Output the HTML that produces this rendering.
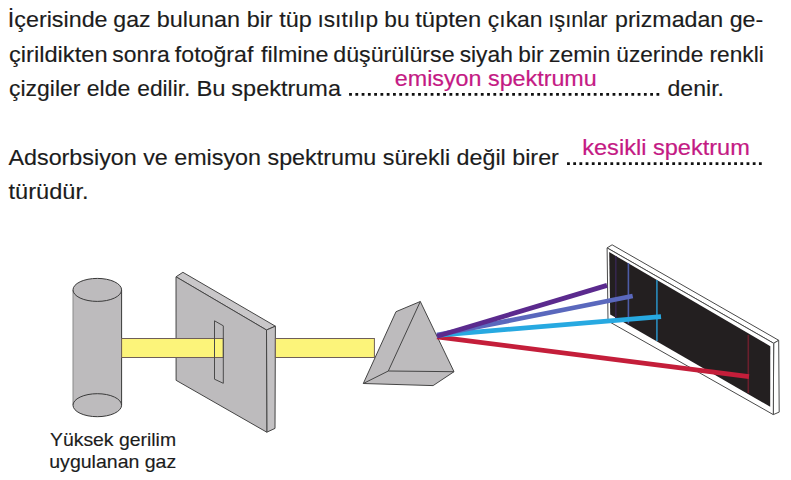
<!DOCTYPE html>
<html><head><meta charset="utf-8">
<style>
html,body{margin:0;padding:0;background:#fff;}
body{width:791px;height:480px;overflow:hidden;position:relative;}
svg{position:absolute;left:0;top:0;}
.t{font-family:"Liberation Sans",sans-serif;fill:#1c1c1c;stroke:#1c1c1c;stroke-width:0.15px;}
.p{font-family:"Liberation Sans",sans-serif;fill:#c41a84;stroke:#c41a84;stroke-width:0.2px;}
</style></head>
<body>
<svg width="791" height="480" viewBox="0 0 791 480">
<!-- TEXT START -->
<text class="t" x="7.86" y="26.8" font-size="21.8" textLength="99.71" lengthAdjust="spacingAndGlyphs">İçerisinde</text>
<text class="t" x="113.35" y="26.8" font-size="21.8" textLength="37.27" lengthAdjust="spacingAndGlyphs">gaz</text>
<text class="t" x="156.80" y="26.8" font-size="21.8" textLength="154.91" lengthAdjust="spacingAndGlyphs">bulunan bir tüp</text>
<text class="t" x="317.41" y="26.8" font-size="21.8" textLength="92.21" lengthAdjust="spacingAndGlyphs">ısıtılıp bu</text>
<text class="t" x="415.17" y="26.8" font-size="21.8" textLength="66.17" lengthAdjust="spacingAndGlyphs">tüpten</text>
<text class="t" x="487.85" y="26.8" font-size="21.8" textLength="54.72" lengthAdjust="spacingAndGlyphs">çıkan</text>
<text class="t" x="548.20" y="26.8" font-size="21.8" textLength="59.37" lengthAdjust="spacingAndGlyphs">ışınlar</text>
<text class="t" x="615.01" y="26.8" font-size="21.8" textLength="148.20" lengthAdjust="spacingAndGlyphs">prizmadan ge-</text>
<text class="t" x="9.02" y="61.5" font-size="21.8" textLength="98.55" lengthAdjust="spacingAndGlyphs">çirildikten</text>
<text class="t" x="112.37" y="61.5" font-size="21.8" textLength="57.26" lengthAdjust="spacingAndGlyphs">sonra</text>
<text class="t" x="174.88" y="61.5" font-size="21.8" textLength="78.44" lengthAdjust="spacingAndGlyphs">fotoğraf</text>
<text class="t" x="261.08" y="61.5" font-size="21.8" textLength="67.39" lengthAdjust="spacingAndGlyphs">filmine</text>
<text class="t" x="333.24" y="61.5" font-size="21.8" textLength="121.33" lengthAdjust="spacingAndGlyphs">düşürülürse</text>
<text class="t" x="459.67" y="61.5" font-size="21.8" textLength="53.18" lengthAdjust="spacingAndGlyphs">siyah</text>
<text class="t" x="518.34" y="61.5" font-size="21.8" textLength="25.20" lengthAdjust="spacingAndGlyphs">bir</text>
<text class="t" x="548.95" y="61.5" font-size="21.8" textLength="61.38" lengthAdjust="spacingAndGlyphs">zemin</text>
<text class="t" x="616.34" y="61.5" font-size="21.8" textLength="147.39" lengthAdjust="spacingAndGlyphs">üzerinde renkli</text>
<text class="t" x="9.05" y="95.5" font-size="21.8" textLength="121.11" lengthAdjust="spacingAndGlyphs">çizgiler elde</text>
<text class="t" x="137.26" y="95.5" font-size="21.8" textLength="53.12" lengthAdjust="spacingAndGlyphs">edilir.</text>
<text class="t" x="196.43" y="95.5" font-size="21.8" textLength="29.17" lengthAdjust="spacingAndGlyphs">Bu</text>
<text class="t" x="231.35" y="95.5" font-size="21.8" textLength="109.62" lengthAdjust="spacingAndGlyphs">spektruma</text>
<text class="t" x="667.55" y="95.5" font-size="21.8" textLength="56.40" lengthAdjust="spacingAndGlyphs">denir.</text>
<text class="p" x="394.81" y="85.5" font-size="21.2" textLength="201.93" lengthAdjust="spacingAndGlyphs">emisyon spektrumu</text>
<text class="t" x="8.49" y="164.6" font-size="21.8" textLength="550.37" lengthAdjust="spacingAndGlyphs">Adsorbsiyon ve emisyon spektrumu sürekli değil birer</text>
<text class="p" x="582.24" y="154.5" font-size="21.2" textLength="167.60" lengthAdjust="spacingAndGlyphs">kesikli spektrum</text>
<text class="t" x="8.53" y="199.3" font-size="21.8" textLength="79.97" lengthAdjust="spacingAndGlyphs">türüdür.</text>
<text class="t" x="49.99" y="445.8" font-size="19" textLength="126.07" lengthAdjust="spacingAndGlyphs">Yüksek gerilim</text>
<text class="t" x="49.27" y="467.8" font-size="19" textLength="126.96" lengthAdjust="spacingAndGlyphs">uygulanan gaz</text>
<!-- TEXT END -->
<line x1="349.1" y1="94.3" x2="659.5" y2="94.3" stroke="#111" stroke-width="2.8" stroke-dasharray="2.8 3.473"/>
<line x1="567.05" y1="163.6" x2="762" y2="163.6" stroke="#111" stroke-width="2.8" stroke-dasharray="2.8 3.39"/>


<!-- cylinder -->
<g stroke="#3a3a3a" stroke-width="1" fill="#bdbbbd">
  <path d="M73,290 L73,405 A24.3,11.5 0 0 0 121.6,405 L121.6,290 Z" stroke="none"/>
  <line x1="73" y1="290" x2="73" y2="405" stroke="#8a8a8a"/>
  <line x1="121.6" y1="290" x2="121.6" y2="405"/>
  <ellipse cx="97.3" cy="405.2" rx="24.3" ry="11.5"/>
  <ellipse cx="97.3" cy="289.9" rx="24.3" ry="11.5"/>
</g>

<!-- plate -->
<g stroke="#454545" stroke-width="1" stroke-linejoin="round">
  <polygon points="176,276.8 182.9,272.3 275.4,326.2 266.5,330" fill="#c9c7c9"/>
  <polygon points="266.5,330 275.4,326.2 275,428.4 266.8,432.2" fill="#c3c1c3"/>
  <polygon points="176,276.8 266.5,330 266.8,432.2 176.1,380.3" fill="#bdbbbd"/>
</g>
<!-- beam 1 -->
<rect x="121.6" y="338.5" width="101.7" height="19" fill="#fcf47a" stroke="#6f5f58" stroke-width="1"/>
<!-- slit -->
<polygon points="214.5,320.8 223.3,325.8 223.3,383.3 214.5,379.2" fill="none" stroke="#4a4a4a" stroke-width="1"/>

<!-- beam 2 -->
<rect x="275.4" y="338.5" width="99" height="19" fill="#fcf47a" stroke="#6f5f58" stroke-width="1"/>

<!-- prism -->
<g stroke="#454545" stroke-width="1" stroke-linejoin="round" fill="#bdbbbd">
  <polygon points="420.3,301.5 396,311.7 363.3,383.5 433.1,385.6 454,371.7"/>
  <polyline points="420.3,301.5 388.3,371 454,371.7" fill="none"/>
  <line x1="388.3" y1="371" x2="363.3" y2="383.5"/>
</g>

<!-- screen -->
<g stroke-linejoin="round" stroke="#4a4a4a" stroke-width="1">
  <polygon points="607.1,247.9 612.1,244.8 778.7,340.3 773.7,343.3" fill="#fff"/>
  <polygon points="773.7,343.3 778.7,340.3 779.2,412.1 773.3,414.6" fill="#fff"/>
  <polygon points="607.1,247.9 773.7,343.3 773.3,414.6 608,321" fill="#fff"/>
</g>
<polygon points="609.2,252.1 770.3,346.2 770.2,406.8 610.2,314.5" fill="#231f20"/>
<g stroke-width="1.6">
  <line x1="615.8" y1="256" x2="615.8" y2="318" stroke="#35264d"/>
  <line x1="628.4" y1="263" x2="628.4" y2="323.5" stroke="#4d5ca6"/>
  <line x1="656.9" y1="280" x2="656.9" y2="341" stroke="#2a8bbd"/>
  <line x1="748.3" y1="335" x2="748.3" y2="393" stroke="#6a1f2c"/>
</g>

<!-- rays -->
<g stroke-linecap="butt">
  <line x1="437" y1="336.8" x2="749" y2="376.6" stroke="#c41e3a" stroke-width="4.8"/>
  <line x1="437" y1="335.3" x2="661" y2="316.6" stroke="#27a9e1" stroke-width="4.8"/>
  <line x1="437" y1="335" x2="632.7" y2="296" stroke="#5a68bd" stroke-width="4.8"/>
  <line x1="437" y1="336.3" x2="607" y2="285.4" stroke="#5b2a8e" stroke-width="4.8"/>
</g>
</svg>
</body></html>
